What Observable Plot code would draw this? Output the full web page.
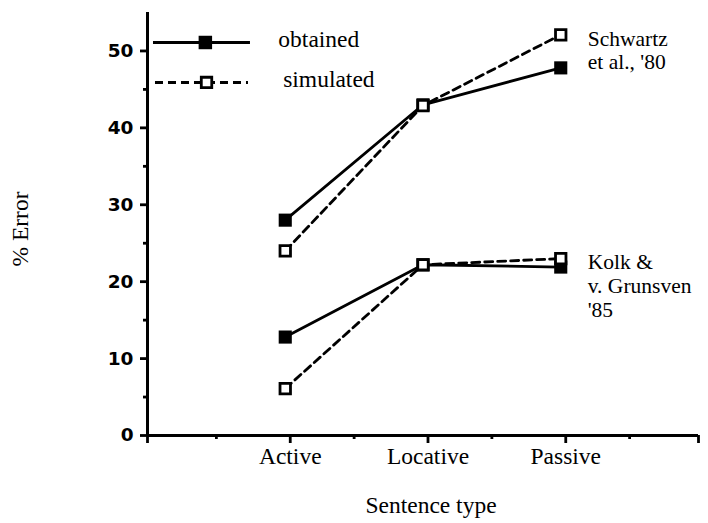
<!DOCTYPE html>
<html><head><meta charset="utf-8">
<script src="https://cdn.jsdelivr.net/npm/d3@7"></script>
<script src="https://cdn.jsdelivr.net/npm/@observablehq/plot@0.6"></script>
<style>body{margin:0;background:#fff} svg{display:block}
svg text.serif, svg .serif text {font-family: "Liberation Serif", "Times New Roman", "DejaVu Serif", serif !important;}
</style>
</head><body><div id="chart"></div>
<script>
const categories = ["Active", "Locative", "Passive"];
const schwartzObtained = [28, 43, 47.8];
const schwartzSimulated = [24, 42.9, 52.1];
const kolkObtained = [12.8, 22.2, 21.9];
const kolkSimulated = [6.1, 22.2, 23];
const studyLabels = ["Schwartz\net al., '80", "Kolk &\nv. Grunsven\n'85"];
const legendLabels = ["obtained", "simulated"];
const yMajorTicks = [0, 10, 20, 30, 40, 50];
const yMinorTicks = [5, 15, 25, 35, 45];
const xLabel = "Sentence type";
const yLabel = "% Error";

const series = [
  {study: 0, kind: "obtained", values: schwartzObtained},
  {study: 0, kind: "simulated", values: schwartzSimulated},
  {study: 1, kind: "obtained", values: kolkObtained},
  {study: 1, kind: "simulated", values: kolkSimulated}
];
const rows = series.flatMap(s => s.values.map((v, i) => ({study: s.study, kind: s.kind, x: (i + 1) * 2, y: v})));
const obt = rows.filter(d => d.kind === "obtained");
const sim = rows.filter(d => d.kind === "simulated");
const labelRows = studyLabels.map((t, s) => ({text: t, x: 6, y: d3.max(rows.filter(d => d.study === s && d.x === 6), d => d.y)}));

const sans = "'DejaVu Sans', 'Liberation Sans', sans-serif";
const SW = 2.8;
const FS = 23.5;

// legend placement (data units)
const legY = [51.1, 45.9];

const chart = Plot.plot({
  width: 708, height: 523,
  marginLeft: 147, marginRight: 10, marginTop: 12, marginBottom: 88,
  x: {domain: [0, 8], axis: null},
  y: {domain: [0, 55], axis: null},
  style: {background: "white", color: "black"},
  marks: [
    Plot.axisY({ticks: yMajorTicks, tickSize: 7, tickPadding: 7, strokeWidth: SW, fontSize: 18.5, fontWeight: "bold", fontFamily: sans, label: null}),
    Plot.axisY({ticks: yMinorTicks, tickSize: 4, strokeWidth: SW, text: null, label: null}),
    Plot.axisX({ticks: [2, 4, 6], tickSize: 8, tickPadding: 4, strokeWidth: SW, fontSize: FS, className: "serif", tickFormat: v => categories[v / 2 - 1], label: null, dx: 5}),
    Plot.axisX({ticks: [1, 3, 5, 7], tickSize: 4, strokeWidth: SW, text: null, label: null}),
    Plot.axisX({ticks: [0, 8], tickSize: 8, strokeWidth: SW, text: null, label: null}),
    Plot.ruleY([0], {strokeWidth: 3}),
    Plot.ruleX([0], {strokeWidth: 3}),
    Plot.text([yLabel], {frameAnchor: "left", textAnchor: "middle", dx: -127, dy: 5, rotate: -90, fontSize: FS, className: "serif"}),
    Plot.text([xLabel], {frameAnchor: "bottom", lineAnchor: "middle", dy: 70, dx: 8, fontSize: FS, className: "serif"}),
    // legend
    Plot.ruleY([legY[0]], {x1: 0.087, x2: 1.495, strokeWidth: SW}),
    Plot.ruleY([legY[1]], {x1: 0.116, x2: 1.466, strokeWidth: SW, strokeDasharray: "8,5"}),
    Plot.dot([legY[0]], {x: 0.84, y: d => d, symbol: "square", r: 7.6, fill: "black", stroke: "none"}),
    Plot.dot([legY[1]], {x: 0.857, y: d => d, symbol: "square", r: 5.9, fill: "white", stroke: "black", strokeWidth: SW}),
    Plot.text(legendLabels, {x: (d, i) => i === 0 ? 1.90 : 1.97, y: (d, i) => legY[i], text: d => d, textAnchor: "start", dy: -3, fontSize: FS, className: "serif"}),
    // data
    Plot.line(sim, {x: "x", y: "y", z: "study", strokeWidth: SW, strokeDasharray: "8,5"}),
    Plot.line(obt, {x: "x", y: "y", z: "study", strokeWidth: SW}),
    Plot.dot(obt, {x: "x", y: "y", symbol: "square", r: 7.4, fill: "black", stroke: "none"}),
    Plot.dot(sim, {x: "x", y: "y", symbol: "square", r: 5.9, fill: "white", stroke: "black", strokeWidth: SW}),
    Plot.text(labelRows, {x: "x", y: "y", text: "text", textAnchor: "start", lineAnchor: "top", dx: 27, dy: -6, lineHeight: 1.1, fontSize: 21.5, className: "serif"})
  ]
});
document.getElementById("chart").appendChild(chart);
</script></body></html>
